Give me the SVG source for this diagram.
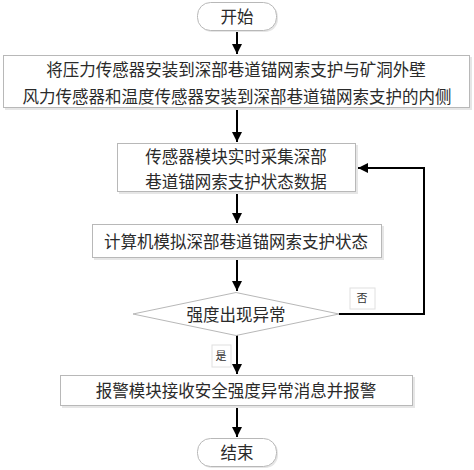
<svg xmlns="http://www.w3.org/2000/svg" width="474" height="470" viewBox="0 0 474 470">
<style>
.box{fill:#fff;stroke:#b8b8b8;stroke-width:1}
.sh{fill:#e6e6e6}
.t{font-family:"Liberation Serif","Noto Sans CJK SC",serif;font-size:16.5px;fill:#2a2a2a;text-anchor:middle}
.s{font-family:"Liberation Serif","Noto Sans CJK SC",serif;font-size:11px;fill:#333;text-anchor:middle}
.c{fill:none;stroke:#000;stroke-width:2}
</style>
<defs>
<marker id="a" viewBox="0 0 10 10" refX="10" refY="5" markerWidth="5.5" markerHeight="5" orient="auto" markerUnits="strokeWidth">
<path d="M0,0 L10,5 L0,10 z" fill="#000"/>
</marker>
</defs>
<g id="connectors">
<line class="c" x1="237" y1="30" x2="237" y2="54" marker-end="url(#a)"/>
<line class="c" x1="237" y1="108" x2="237" y2="142" marker-end="url(#a)"/>
<line class="c" x1="237" y1="192" x2="237" y2="223" marker-end="url(#a)"/>
<line class="c" x1="237" y1="258" x2="237" y2="291" marker-end="url(#a)"/>
<polyline class="c" points="339,314 424,314 424,168 358,168" marker-end="url(#a)"/>
<line class="c" x1="237" y1="335" x2="237" y2="374" marker-end="url(#a)"/>
<line class="c" x1="237" y1="406" x2="237" y2="437" marker-end="url(#a)"/>
</g>
<g id="start">
<rect class="sh" x="199" y="4" width="79" height="28" rx="13"/>
<rect class="box" x="197.5" y="2.5" width="79" height="28" rx="13"/>
<text class="t" x="237" y="22.5">开始</text>
</g>
<g id="install">
<rect class="sh" x="5" y="57" width="467" height="53"/>
<rect class="box" x="3.5" y="55.5" width="466" height="52"/>
<text class="t" x="236" y="76">将压力传感器安装到深部巷道锚网索支护与矿洞外壁</text>
<text class="t" x="237" y="103">风力传感器和温度传感器安装到深部巷道锚网索支护的内侧</text>
</g>
<g id="collect">
<rect class="sh" x="119" y="145" width="239" height="49"/>
<rect class="box" x="117.5" y="143.5" width="238" height="48"/>
<text class="t" x="236" y="163">传感器模块实时采集深部</text>
<text class="t" x="236" y="188">巷道锚网索支护状态数据</text>
</g>
<g id="simulate">
<rect class="sh" x="94" y="226" width="290" height="34"/>
<rect class="box" x="92.5" y="224.5" width="289" height="33"/>
<text class="t" x="236" y="247.5">计算机模拟深部巷道锚网索支护状态</text>
</g>
<g id="decision">
<polygon class="box" points="236,292.5 339,314 236,335.5 133,314"/>
<text class="t" x="236" y="320.5">强度出现异常</text>
</g>
<g id="no-label">
<rect x="350" y="288" width="25" height="21" fill="#fff" stroke="#e0e0e0"/>
<text class="s" x="362" y="302">否</text>
</g>
<g id="yes-label">
<rect x="212" y="345" width="19" height="22" fill="#fff" stroke="#e0e0e0"/>
<text class="s" x="221" y="360">是</text>
</g>
<g id="alarm">
<rect class="sh" x="62" y="377" width="353" height="31"/>
<rect class="box" x="60.5" y="375.5" width="352" height="30"/>
<text class="t" x="236" y="396.5">报警模块接收安全强度异常消息并报警</text>
</g>
<g id="end">
<rect class="sh" x="199" y="440" width="79" height="28" rx="13"/>
<rect class="box" x="197.5" y="438.5" width="79" height="28" rx="13"/>
<text class="t" x="237" y="458.5">结束</text>
</g>
</svg>
